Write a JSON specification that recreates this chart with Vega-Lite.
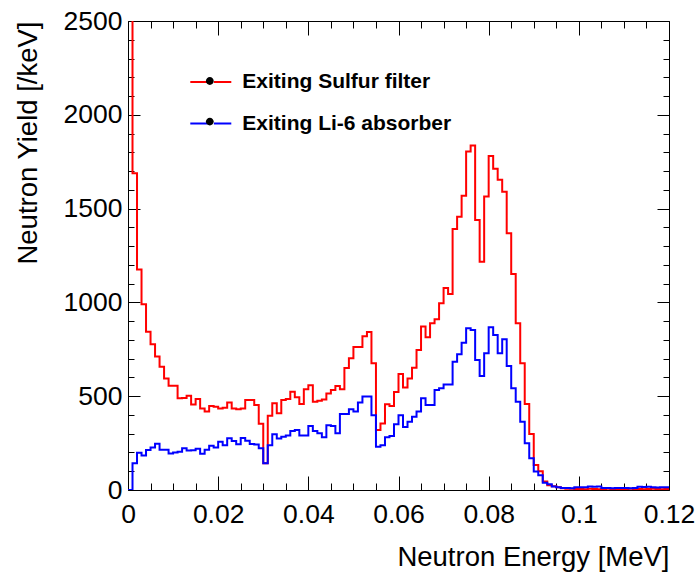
{
"$schema": "https://vega.github.io/schema/vega-lite/v6.json",
"width": 541, "height": 469,
"autosize": {"type": "none"},
"padding": {"left": 128, "top": 21, "right": 29, "bottom": 83},
"background": "white",
"config": {"view": {"stroke": "black", "strokeWidth": 1}, "font": "Liberation Sans"},
"datasets": {"hist": [
{"energy":0,"yield":2800,"series":"Exiting Sulfur filter"},{"energy":0.001,"yield":1688,"series":"Exiting Sulfur filter"},{"energy":0.002,"yield":1176,"series":"Exiting Sulfur filter"},{"energy":0.003,"yield":990,"series":"Exiting Sulfur filter"},{"energy":0.004,"yield":844,"series":"Exiting Sulfur filter"},{"energy":0.005,"yield":777,"series":"Exiting Sulfur filter"},{"energy":0.006,"yield":711,"series":"Exiting Sulfur filter"},{"energy":0.007,"yield":657,"series":"Exiting Sulfur filter"},{"energy":0.008,"yield":594,"series":"Exiting Sulfur filter"},{"energy":0.009,"yield":556,"series":"Exiting Sulfur filter"},
{"energy":0.01,"yield":556,"series":"Exiting Sulfur filter"},{"energy":0.011,"yield":489,"series":"Exiting Sulfur filter"},{"energy":0.012,"yield":490,"series":"Exiting Sulfur filter"},{"energy":0.013,"yield":503,"series":"Exiting Sulfur filter"},{"energy":0.014,"yield":456,"series":"Exiting Sulfur filter"},{"energy":0.015,"yield":485,"series":"Exiting Sulfur filter"},{"energy":0.016,"yield":435,"series":"Exiting Sulfur filter"},{"energy":0.017,"yield":418,"series":"Exiting Sulfur filter"},{"energy":0.018,"yield":448,"series":"Exiting Sulfur filter"},{"energy":0.019,"yield":444,"series":"Exiting Sulfur filter"},
{"energy":0.02,"yield":435,"series":"Exiting Sulfur filter"},{"energy":0.021,"yield":439,"series":"Exiting Sulfur filter"},{"energy":0.022,"yield":466,"series":"Exiting Sulfur filter"},{"energy":0.023,"yield":434,"series":"Exiting Sulfur filter"},{"energy":0.024,"yield":430,"series":"Exiting Sulfur filter"},{"energy":0.025,"yield":434,"series":"Exiting Sulfur filter"},{"energy":0.026,"yield":480,"series":"Exiting Sulfur filter"},{"energy":0.027,"yield":480,"series":"Exiting Sulfur filter"},{"energy":0.028,"yield":453,"series":"Exiting Sulfur filter"},{"energy":0.029,"yield":353,"series":"Exiting Sulfur filter"},
{"energy":0.03,"yield":142,"series":"Exiting Sulfur filter"},{"energy":0.031,"yield":396,"series":"Exiting Sulfur filter"},{"energy":0.032,"yield":462,"series":"Exiting Sulfur filter"},{"energy":0.033,"yield":409,"series":"Exiting Sulfur filter"},{"energy":0.034,"yield":480,"series":"Exiting Sulfur filter"},{"energy":0.035,"yield":485,"series":"Exiting Sulfur filter"},{"energy":0.036,"yield":524,"series":"Exiting Sulfur filter"},{"energy":0.037,"yield":494,"series":"Exiting Sulfur filter"},{"energy":0.038,"yield":458,"series":"Exiting Sulfur filter"},{"energy":0.039,"yield":537,"series":"Exiting Sulfur filter"},
{"energy":0.04,"yield":558,"series":"Exiting Sulfur filter"},{"energy":0.041,"yield":471,"series":"Exiting Sulfur filter"},{"energy":0.042,"yield":476,"series":"Exiting Sulfur filter"},{"energy":0.043,"yield":483,"series":"Exiting Sulfur filter"},{"energy":0.044,"yield":515,"series":"Exiting Sulfur filter"},{"energy":0.045,"yield":533,"series":"Exiting Sulfur filter"},{"energy":0.046,"yield":554,"series":"Exiting Sulfur filter"},{"energy":0.047,"yield":537,"series":"Exiting Sulfur filter"},{"energy":0.048,"yield":650,"series":"Exiting Sulfur filter"},{"energy":0.049,"yield":702,"series":"Exiting Sulfur filter"},
{"energy":0.05,"yield":762,"series":"Exiting Sulfur filter"},{"energy":0.051,"yield":762,"series":"Exiting Sulfur filter"},{"energy":0.052,"yield":819,"series":"Exiting Sulfur filter"},{"energy":0.053,"yield":842,"series":"Exiting Sulfur filter"},{"energy":0.054,"yield":675,"series":"Exiting Sulfur filter"},{"energy":0.055,"yield":320,"series":"Exiting Sulfur filter"},{"energy":0.056,"yield":355,"series":"Exiting Sulfur filter"},{"energy":0.057,"yield":457,"series":"Exiting Sulfur filter"},{"energy":0.058,"yield":448,"series":"Exiting Sulfur filter"},{"energy":0.059,"yield":522,"series":"Exiting Sulfur filter"},
{"energy":0.06,"yield":618,"series":"Exiting Sulfur filter"},{"energy":0.061,"yield":547,"series":"Exiting Sulfur filter"},{"energy":0.062,"yield":594,"series":"Exiting Sulfur filter"},{"energy":0.063,"yield":651,"series":"Exiting Sulfur filter"},{"energy":0.064,"yield":746,"series":"Exiting Sulfur filter"},{"energy":0.065,"yield":871,"series":"Exiting Sulfur filter"},{"energy":0.066,"yield":814,"series":"Exiting Sulfur filter"},{"energy":0.067,"yield":889,"series":"Exiting Sulfur filter"},{"energy":0.068,"yield":910,"series":"Exiting Sulfur filter"},{"energy":0.069,"yield":995,"series":"Exiting Sulfur filter"},
{"energy":0.07,"yield":1077,"series":"Exiting Sulfur filter"},{"energy":0.071,"yield":1045,"series":"Exiting Sulfur filter"},{"energy":0.072,"yield":1391,"series":"Exiting Sulfur filter"},{"energy":0.073,"yield":1457,"series":"Exiting Sulfur filter"},{"energy":0.074,"yield":1569,"series":"Exiting Sulfur filter"},{"energy":0.075,"yield":1804,"series":"Exiting Sulfur filter"},{"energy":0.076,"yield":1836,"series":"Exiting Sulfur filter"},{"energy":0.077,"yield":1439,"series":"Exiting Sulfur filter"},{"energy":0.078,"yield":1217,"series":"Exiting Sulfur filter"},{"energy":0.079,"yield":1564,"series":"Exiting Sulfur filter"},
{"energy":0.08,"yield":1781,"series":"Exiting Sulfur filter"},{"energy":0.081,"yield":1713,"series":"Exiting Sulfur filter"},{"energy":0.082,"yield":1654,"series":"Exiting Sulfur filter"},{"energy":0.083,"yield":1590,"series":"Exiting Sulfur filter"},{"energy":0.084,"yield":1368,"series":"Exiting Sulfur filter"},{"energy":0.085,"yield":1151,"series":"Exiting Sulfur filter"},{"energy":0.086,"yield":889,"series":"Exiting Sulfur filter"},{"energy":0.087,"yield":675,"series":"Exiting Sulfur filter"},{"energy":0.088,"yield":458,"series":"Exiting Sulfur filter"},{"energy":0.089,"yield":299,"series":"Exiting Sulfur filter"},
{"energy":0.09,"yield":133,"series":"Exiting Sulfur filter"},{"energy":0.091,"yield":100,"series":"Exiting Sulfur filter"},{"energy":0.092,"yield":45,"series":"Exiting Sulfur filter"},{"energy":0.093,"yield":25,"series":"Exiting Sulfur filter"},{"energy":0.094,"yield":20,"series":"Exiting Sulfur filter"},{"energy":0.095,"yield":14,"series":"Exiting Sulfur filter"},{"energy":0.096,"yield":9,"series":"Exiting Sulfur filter"},{"energy":0.097,"yield":7,"series":"Exiting Sulfur filter"},{"energy":0.098,"yield":6,"series":"Exiting Sulfur filter"},{"energy":0.099,"yield":5,"series":"Exiting Sulfur filter"},
{"energy":0.1,"yield":5,"series":"Exiting Sulfur filter"},{"energy":0.101,"yield":4,"series":"Exiting Sulfur filter"},{"energy":0.102,"yield":6,"series":"Exiting Sulfur filter"},{"energy":0.103,"yield":5,"series":"Exiting Sulfur filter"},{"energy":0.104,"yield":4,"series":"Exiting Sulfur filter"},{"energy":0.105,"yield":5,"series":"Exiting Sulfur filter"},{"energy":0.106,"yield":6,"series":"Exiting Sulfur filter"},{"energy":0.107,"yield":4,"series":"Exiting Sulfur filter"},{"energy":0.108,"yield":5,"series":"Exiting Sulfur filter"},{"energy":0.109,"yield":5,"series":"Exiting Sulfur filter"},
{"energy":0.11,"yield":4,"series":"Exiting Sulfur filter"},{"energy":0.111,"yield":6,"series":"Exiting Sulfur filter"},{"energy":0.112,"yield":5,"series":"Exiting Sulfur filter"},{"energy":0.113,"yield":5,"series":"Exiting Sulfur filter"},{"energy":0.114,"yield":4,"series":"Exiting Sulfur filter"},{"energy":0.115,"yield":5,"series":"Exiting Sulfur filter"},{"energy":0.116,"yield":6,"series":"Exiting Sulfur filter"},{"energy":0.117,"yield":5,"series":"Exiting Sulfur filter"},{"energy":0.118,"yield":4,"series":"Exiting Sulfur filter"},{"energy":0.119,"yield":5,"series":"Exiting Sulfur filter"},
{"energy":0.12,"yield":5,"series":"Exiting Sulfur filter"},
{"energy":0,"yield":0,"series":"Exiting Li-6 absorber"},{"energy":0.001,"yield":142,"series":"Exiting Li-6 absorber"},{"energy":0.002,"yield":199,"series":"Exiting Li-6 absorber"},{"energy":0.003,"yield":184,"series":"Exiting Li-6 absorber"},{"energy":0.004,"yield":213,"series":"Exiting Li-6 absorber"},{"energy":0.005,"yield":227,"series":"Exiting Li-6 absorber"},{"energy":0.006,"yield":247,"series":"Exiting Li-6 absorber"},{"energy":0.007,"yield":215,"series":"Exiting Li-6 absorber"},{"energy":0.008,"yield":215,"series":"Exiting Li-6 absorber"},{"energy":0.009,"yield":194,"series":"Exiting Li-6 absorber"},
{"energy":0.01,"yield":200,"series":"Exiting Li-6 absorber"},{"energy":0.011,"yield":204,"series":"Exiting Li-6 absorber"},{"energy":0.012,"yield":222,"series":"Exiting Li-6 absorber"},{"energy":0.013,"yield":210,"series":"Exiting Li-6 absorber"},{"energy":0.014,"yield":212,"series":"Exiting Li-6 absorber"},{"energy":0.015,"yield":220,"series":"Exiting Li-6 absorber"},{"energy":0.016,"yield":193,"series":"Exiting Li-6 absorber"},{"energy":0.017,"yield":215,"series":"Exiting Li-6 absorber"},{"energy":0.018,"yield":236,"series":"Exiting Li-6 absorber"},{"energy":0.019,"yield":226,"series":"Exiting Li-6 absorber"},
{"energy":0.02,"yield":257,"series":"Exiting Li-6 absorber"},{"energy":0.021,"yield":239,"series":"Exiting Li-6 absorber"},{"energy":0.022,"yield":276,"series":"Exiting Li-6 absorber"},{"energy":0.023,"yield":261,"series":"Exiting Li-6 absorber"},{"energy":0.024,"yield":244,"series":"Exiting Li-6 absorber"},{"energy":0.025,"yield":277,"series":"Exiting Li-6 absorber"},{"energy":0.026,"yield":262,"series":"Exiting Li-6 absorber"},{"energy":0.027,"yield":245,"series":"Exiting Li-6 absorber"},{"energy":0.028,"yield":243,"series":"Exiting Li-6 absorber"},{"energy":0.029,"yield":222,"series":"Exiting Li-6 absorber"},
{"energy":0.03,"yield":142,"series":"Exiting Li-6 absorber"},{"energy":0.031,"yield":238,"series":"Exiting Li-6 absorber"},{"energy":0.032,"yield":297,"series":"Exiting Li-6 absorber"},{"energy":0.033,"yield":275,"series":"Exiting Li-6 absorber"},{"energy":0.034,"yield":284,"series":"Exiting Li-6 absorber"},{"energy":0.035,"yield":290,"series":"Exiting Li-6 absorber"},{"energy":0.036,"yield":315,"series":"Exiting Li-6 absorber"},{"energy":0.037,"yield":320,"series":"Exiting Li-6 absorber"},{"energy":0.038,"yield":291,"series":"Exiting Li-6 absorber"},{"energy":0.039,"yield":291,"series":"Exiting Li-6 absorber"},
{"energy":0.04,"yield":341,"series":"Exiting Li-6 absorber"},{"energy":0.041,"yield":315,"series":"Exiting Li-6 absorber"},{"energy":0.042,"yield":302,"series":"Exiting Li-6 absorber"},{"energy":0.043,"yield":281,"series":"Exiting Li-6 absorber"},{"energy":0.044,"yield":345,"series":"Exiting Li-6 absorber"},{"energy":0.045,"yield":341,"series":"Exiting Li-6 absorber"},{"energy":0.046,"yield":302,"series":"Exiting Li-6 absorber"},{"energy":0.047,"yield":405,"series":"Exiting Li-6 absorber"},{"energy":0.048,"yield":405,"series":"Exiting Li-6 absorber"},{"energy":0.049,"yield":430,"series":"Exiting Li-6 absorber"},
{"energy":0.05,"yield":418,"series":"Exiting Li-6 absorber"},{"energy":0.051,"yield":466,"series":"Exiting Li-6 absorber"},{"energy":0.052,"yield":498,"series":"Exiting Li-6 absorber"},{"energy":0.053,"yield":498,"series":"Exiting Li-6 absorber"},{"energy":0.054,"yield":398,"series":"Exiting Li-6 absorber"},{"energy":0.055,"yield":231,"series":"Exiting Li-6 absorber"},{"energy":0.056,"yield":238,"series":"Exiting Li-6 absorber"},{"energy":0.057,"yield":281,"series":"Exiting Li-6 absorber"},{"energy":0.058,"yield":288,"series":"Exiting Li-6 absorber"},{"energy":0.059,"yield":350,"series":"Exiting Li-6 absorber"},
{"energy":0.06,"yield":398,"series":"Exiting Li-6 absorber"},{"energy":0.061,"yield":336,"series":"Exiting Li-6 absorber"},{"energy":0.062,"yield":364,"series":"Exiting Li-6 absorber"},{"energy":0.063,"yield":391,"series":"Exiting Li-6 absorber"},{"energy":0.064,"yield":418,"series":"Exiting Li-6 absorber"},{"energy":0.065,"yield":489,"series":"Exiting Li-6 absorber"},{"energy":0.066,"yield":453,"series":"Exiting Li-6 absorber"},{"energy":0.067,"yield":453,"series":"Exiting Li-6 absorber"},{"energy":0.068,"yield":533,"series":"Exiting Li-6 absorber"},{"energy":0.069,"yield":542,"series":"Exiting Li-6 absorber"},
{"energy":0.07,"yield":563,"series":"Exiting Li-6 absorber"},{"energy":0.071,"yield":563,"series":"Exiting Li-6 absorber"},{"energy":0.072,"yield":684,"series":"Exiting Li-6 absorber"},{"energy":0.073,"yield":723,"series":"Exiting Li-6 absorber"},{"energy":0.074,"yield":785,"series":"Exiting Li-6 absorber"},{"energy":0.075,"yield":862,"series":"Exiting Li-6 absorber"},{"energy":0.076,"yield":853,"series":"Exiting Li-6 absorber"},{"energy":0.077,"yield":693,"series":"Exiting Li-6 absorber"},{"energy":0.078,"yield":608,"series":"Exiting Li-6 absorber"},{"energy":0.079,"yield":729,"series":"Exiting Li-6 absorber"},
{"energy":0.08,"yield":867,"series":"Exiting Li-6 absorber"},{"energy":0.081,"yield":826,"series":"Exiting Li-6 absorber"},{"energy":0.082,"yield":729,"series":"Exiting Li-6 absorber"},{"energy":0.083,"yield":803,"series":"Exiting Li-6 absorber"},{"energy":0.084,"yield":661,"series":"Exiting Li-6 absorber"},{"energy":0.085,"yield":542,"series":"Exiting Li-6 absorber"},{"energy":0.086,"yield":471,"series":"Exiting Li-6 absorber"},{"energy":0.087,"yield":364,"series":"Exiting Li-6 absorber"},{"energy":0.088,"yield":249,"series":"Exiting Li-6 absorber"},{"energy":0.089,"yield":169,"series":"Exiting Li-6 absorber"},
{"energy":0.09,"yield":98,"series":"Exiting Li-6 absorber"},{"energy":0.091,"yield":78,"series":"Exiting Li-6 absorber"},{"energy":0.092,"yield":38,"series":"Exiting Li-6 absorber"},{"energy":0.093,"yield":30,"series":"Exiting Li-6 absorber"},{"energy":0.094,"yield":18,"series":"Exiting Li-6 absorber"},{"energy":0.095,"yield":14,"series":"Exiting Li-6 absorber"},{"energy":0.096,"yield":11,"series":"Exiting Li-6 absorber"},{"energy":0.097,"yield":10,"series":"Exiting Li-6 absorber"},{"energy":0.098,"yield":9,"series":"Exiting Li-6 absorber"},{"energy":0.099,"yield":14,"series":"Exiting Li-6 absorber"},
{"energy":0.1,"yield":14,"series":"Exiting Li-6 absorber"},{"energy":0.101,"yield":14,"series":"Exiting Li-6 absorber"},{"energy":0.102,"yield":18,"series":"Exiting Li-6 absorber"},{"energy":0.103,"yield":17,"series":"Exiting Li-6 absorber"},{"energy":0.104,"yield":18,"series":"Exiting Li-6 absorber"},{"energy":0.105,"yield":10,"series":"Exiting Li-6 absorber"},{"energy":0.106,"yield":11,"series":"Exiting Li-6 absorber"},{"energy":0.107,"yield":9,"series":"Exiting Li-6 absorber"},{"energy":0.108,"yield":10,"series":"Exiting Li-6 absorber"},{"energy":0.109,"yield":10,"series":"Exiting Li-6 absorber"},
{"energy":0.11,"yield":11,"series":"Exiting Li-6 absorber"},{"energy":0.111,"yield":9,"series":"Exiting Li-6 absorber"},{"energy":0.112,"yield":10,"series":"Exiting Li-6 absorber"},{"energy":0.113,"yield":17,"series":"Exiting Li-6 absorber"},{"energy":0.114,"yield":16,"series":"Exiting Li-6 absorber"},{"energy":0.115,"yield":17,"series":"Exiting Li-6 absorber"},{"energy":0.116,"yield":14,"series":"Exiting Li-6 absorber"},{"energy":0.117,"yield":13,"series":"Exiting Li-6 absorber"},{"energy":0.118,"yield":14,"series":"Exiting Li-6 absorber"},{"energy":0.119,"yield":14,"series":"Exiting Li-6 absorber"},
{"energy":0.12,"yield":14,"series":"Exiting Li-6 absorber"}
]},
"data": {"name": "hist"},
"layer": [
{
"transform": [{"filter": "datum.series === 'Exiting Sulfur filter'"}],
"mark": {"type": "line", "interpolate": "step-after", "strokeWidth": 2, "clip": true},
"encoding": {
"x": {"field": "energy", "type": "quantitative",
 "scale": {"domain": [0, 0.12], "nice": false, "zero": false},
 "axis": {"orient": "bottom",
  "values": [0,0.005,0.01,0.015,0.02,0.025,0.03,0.035,0.04,0.045,0.05,0.055,0.06,0.065,0.07,0.075,0.08,0.085,0.09,0.095,0.1,0.105,0.11,0.115,0.12],
  "labelExpr": "abs(datum.value*50 - round(datum.value*50)) < 1e-6 ? format(datum.value, '~g') : ''",
  "tickSize": {"condition": {"test": "abs(datum.value*50 - round(datum.value*50)) < 1e-6", "value": -14}, "value": -7},
  "tickColor": "black", "tickWidth": 1, "domain": false, "grid": false,
  "labelPadding": 25, "labelFontSize": 26.5, "labelColor": "black", "labelFlush": false, "labelOverlap": false,
  "title": "Neutron Energy [MeV]", "titleFontSize": 27.5, "titleFontWeight": "normal", "titleColor": "black",
  "titleAlign": "right", "titleAnchor": "end", "titleBaseline": "alphabetic", "titleX": 541, "titleY": 75}},
"y": {"field": "yield", "type": "quantitative",
 "scale": {"domain": [0, 2500], "nice": false, "zero": true},
 "axis": {"orient": "left",
  "values": [0,100,200,300,400,500,600,700,800,900,1000,1100,1200,1300,1400,1500,1600,1700,1800,1900,2000,2100,2200,2300,2400,2500],
  "labelExpr": "datum.value % 500 === 0 ? format(datum.value, 'd') : ''",
  "tickSize": {"condition": {"test": "datum.value % 500 === 0", "value": -12}, "value": -6},
  "tickColor": "black", "tickWidth": 1, "domain": false, "grid": false,
  "labelPadding": 18, "labelFontSize": 26.5, "labelColor": "black", "labelFlush": false, "labelOverlap": false,
  "title": "Neutron Yield [/keV]", "titleFontSize": 27.5, "titleFontWeight": "normal", "titleColor": "black",
  "titleAngle": 270, "titleAlign": "right", "titleAnchor": "end", "titleBaseline": "alphabetic", "titleX": -92, "titleY": 0}},
"color": {"field": "series", "type": "nominal",
 "scale": {"domain": ["Exiting Sulfur filter", "Exiting Li-6 absorber"], "range": ["#ff0000", "#0000ff"]},
 "legend": {"orient": "none", "legendX": 61.3, "legendY": 39.5, "direction": "vertical", "title": null,
  "symbolType": "M-1,0H-0.15M0.15,0H1", "symbolSize": 1681, "symbolStrokeWidth": 2,
  "labelFontSize": 21, "labelFontWeight": "bold", "labelColor": "black", "labelOffset": 10, "labelLimit": 0,
  "rowPadding": 9.6, "padding": 0}}
}
},
{
"transform": [{"filter": "datum.series === 'Exiting Li-6 absorber'"}],
"mark": {"type": "line", "interpolate": "step-after", "strokeWidth": 2, "clip": true},
"encoding": {
"x": {"field": "energy", "type": "quantitative",
 "axis": {"orient": "top",
  "values": [0,0.005,0.01,0.015,0.02,0.025,0.03,0.035,0.04,0.045,0.05,0.055,0.06,0.065,0.07,0.075,0.08,0.085,0.09,0.095,0.1,0.105,0.11,0.115,0.12],
  "labels": false, "title": null, "domain": false, "grid": false, "tickColor": "black", "tickWidth": 1,
  "tickSize": {"condition": {"test": "abs(datum.value*50 - round(datum.value*50)) < 1e-6", "value": -14}, "value": -7}}},
"y": {"field": "yield", "type": "quantitative",
 "axis": {"orient": "right",
  "values": [0,100,200,300,400,500,600,700,800,900,1000,1100,1200,1300,1400,1500,1600,1700,1800,1900,2000,2100,2200,2300,2400,2500],
  "labels": false, "title": null, "domain": false, "grid": false, "tickColor": "black", "tickWidth": 1,
  "tickSize": {"condition": {"test": "datum.value % 500 === 0", "value": -12}, "value": -6}}},
"color": {"field": "series", "type": "nominal"}
}
},
{
"mark": {"type": "point", "filled": true, "color": "black", "opacity": 0, "size": 1, "clip": true},
"encoding": {
"x": {"field": "energy", "type": "quantitative", "axis": null},
"y": {"field": "yield", "type": "quantitative", "axis": null},
"shape": {"field": "series", "type": "nominal",
 "scale": {"range": ["M0.19,0A0.19,0.19 0 1,1 -0.19,0A0.19,0.19 0 1,1 0.19,0Z", "M0.19,0A0.19,0.19 0 1,1 -0.19,0A0.19,0.19 0 1,1 0.19,0Z"]},
 "legend": {"orient": "none", "legendX": 61.3, "legendY": 39.5, "direction": "vertical", "title": null,
  "symbolSize": 1681, "symbolFillColor": "black", "symbolStrokeColor": "black", "symbolStrokeWidth": 0, "symbolOpacity": 1,
  "labelExpr": "''", "labelFontSize": 21, "labelOffset": 10, "rowPadding": 9.6, "padding": 0}}
}
}
],
"resolve": {"axis": {"x": "independent", "y": "independent"}}
}
